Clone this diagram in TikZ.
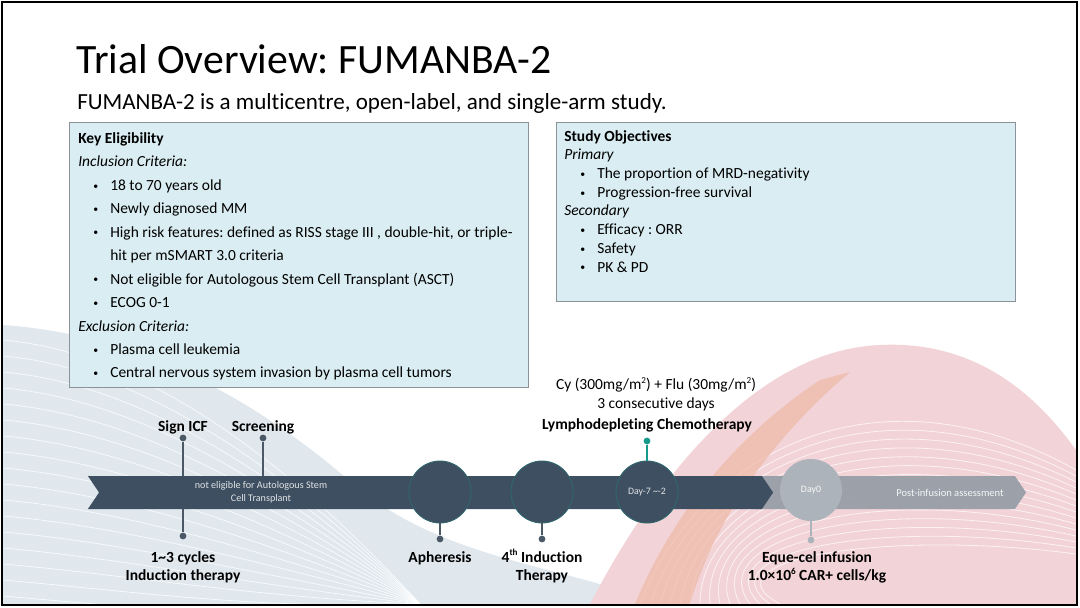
\documentclass[tikz,border=0pt]{standalone}
\usepackage{fontspec}
\setmainfont{Carlito}[Ligatures={NoCommon}]
\usetikzlibrary{shapes.symbols}
\frenchspacing

\definecolor{bandblue}{HTML}{3D4F60}
\definecolor{bandgrey}{HTML}{939BA5}
\definecolor{daygrey}{HTML}{ADB3BA}
\definecolor{boxfill}{HTML}{DAEDF2}
\definecolor{boxline}{HTML}{8C9398}
\definecolor{pingrey}{HTML}{4B5967}
\definecolor{pinteal}{HTML}{179A8C}
\definecolor{wavepink}{HTML}{F2D3D7}
\definecolor{waveblue}{HTML}{E0E8EE}
\definecolor{waveorange}{HTML}{EEB8A6}

\newcommand{\smallbullet}{\raisebox{0.15ex}{\fontsize{7}{7}\selectfont\textbullet}}
\newcommand{\eligitem}{\makebox[0.8cm][l]{\hspace{0.375cm}\smallbullet}}
\newcommand{\objitem}{\makebox[0.825cm][l]{\hspace{0.4cm}\smallbullet}}
\newcommand{\supr}[1]{\smash{\raisebox{0.85ex}{\fontsize{6.5}{6.5}\selectfont #1}}}

\tikzset{
  infobox/.style={draw=boxline, fill=boxfill, line width=0.7pt, inner sep=0pt, anchor=north west},
  stage/.style={circle, fill=bandblue, draw=pinteal!35!bandblue, line width=0.6pt, minimum size=1.55cm, inner sep=0pt, text=white!85!bandblue, font=\fontsize{7}{8}\selectfont},
  pindot/.style={circle, fill=pingrey, inner sep=0pt, minimum size=0.17cm},
  pinline/.style={draw=pingrey, line width=1.1pt},
  band/.style={signal, signal from=west, signal to=east, signal pointer angle=112, minimum height=0.825cm, inner sep=0pt},
  milestone/.style={font=\bfseries\fontsize{11}{13.3}\selectfont, align=center, inner sep=0pt},
}

\begin{document}
\begin{tikzpicture}[x=0.025cm, y=-0.025cm]
\useasboundingbox (0,0) rectangle (1080,607);
\fill[white] (0,0) rectangle (1080,607);

% background waves
\fill[waveblue] (3,325) .. controls (150,335) and (270,410) .. (360,490) .. controls (450,560) and (560,565) .. (660,604) -- (3,604) -- cycle;
\begin{scope}
  \clip (3,325) .. controls (150,335) and (270,410) .. (360,490) .. controls (450,560) and (560,565) .. (660,604) -- (3,604) -- cycle;
  \foreach \k in {0,...,16}
    \draw[white, line width=0.5pt, opacity=0.8] (3,340+\k*16) .. controls (120,350+\k*16) and (260,430+\k*12) .. (420,604);
\end{scope}
\fill[wavepink] (590,604) .. controls (660,470) and (760,350) .. (880,345) .. controls (980,340) and (1040,400) .. (1076,450) -- (1076,604) -- cycle;
\begin{scope}
  \clip (590,604) .. controls (660,470) and (760,350) .. (880,345) .. controls (980,340) and (1040,400) .. (1076,450) -- (1076,604) -- cycle;
  \foreach \k in {0,...,14}
    \draw[white, line width=0.6pt, opacity=0.7] (640+\k*10,604) .. controls (700,450+\k*8) and (880,360+\k*12) .. (1076,470+\k*6);
\end{scope}
\fill[waveorange, opacity=0.7] (635,604) .. controls (670,520) and (730,440) .. (820,380) -- (850,372) .. controls (770,440) and (715,520) .. (690,604) -- cycle;

% slide frame
\draw[black, line width=1.8pt] (2,2) rectangle (1077,605);

% title
\node[anchor=base west, inner sep=0pt, font=\fontsize{29.7}{34}\selectfont] (title) at (76,73) {Trial Overview: FUMANBA-2};
\node[anchor=base west, inner sep=0pt, font=\fontsize{16.4}{19}\selectfont] (subtitle) at (77,109) {FUMANBA-2 is a multicentre, open-label, and single-arm study.};

% eligibility box
\node[infobox, minimum width=11.475cm, minimum height=6.625cm] (eligbox) at (69,122) {};
\node[anchor=north west, inner sep=0pt, align=left, font=\fontsize{11}{16.7}\selectfont] (eligtext) at (78,132) {
\textbf{Key Eligibility}\\
\textit{Inclusion Criteria:}\\
\eligitem 18 to 70 years old\\
\eligitem Newly diagnosed MM\\
\eligitem High risk features: defined as RISS stage III , double-hit, or triple-\\
\hspace*{0.8cm}hit per mSMART 3.0 criteria\\
\eligitem Not eligible for Autologous Stem Cell Transplant (ASCT)\\
\eligitem ECOG 0-1\\
\textit{Exclusion Criteria:}\\
\eligitem Plasma cell leukemia\\
\eligitem Central nervous system invasion by plasma cell tumors};

% objectives box
\node[infobox, minimum width=11.475cm, minimum height=4.475cm] (objbox) at (556,122) {};
\node[anchor=north west, inner sep=0pt, align=left, font=\fontsize{11}{13.3}\selectfont] (objtext) at (564,130) {
\textbf{Study Objectives}\\
\textit{Primary}\\
\objitem The proportion of MRD-negativity\\
\objitem Progression-free survival\\
\textit{Secondary}\\
\objitem Efficacy : ORR\\
\objitem Safety\\
\objitem PK \& PD};

% pins crossing the band
\node[pindot] (icftop) at (183,438) {};
\node[pindot] (icfbot) at (183,536) {};
\node[pindot] (scrdot) at (263,438) {};
\coordinate (scrfoot) at (263,492);
\draw[pinline] (icftop) -- (icfbot);
\draw[pinline] (scrdot) -- (scrfoot);

% timeline bands
\node[band, fill=bandgrey, fill opacity=0.9, minimum width=6.775cm] (postband) at (890.5,492.5) {};
\node[band, fill=bandblue, minimum width=17.125cm] (mainband) at (430.5,492.5) {};
\node[align=center, inner sep=0pt, text=white!85!bandblue, font=\fontsize{7.2}{9.2}\selectfont] (bandtext) at (261,492.5) {not eligible for Autologous Stem\\Cell Transplant};
\node[inner sep=0pt, text=white!90!bandgrey, font=\fontsize{7.5}{9}\selectfont] (posttext) at (950,492.5) {Post-infusion assessment};

% stages
\node[stage] (apher) at (440,492) {};
\node[stage] (induct) at (542,492) {};
\node[stage] (lymph) at (647,492) {Day-7 \textasciitilde-2};
\node[stage, fill=daygrey, draw=none, text=white!92!daygrey] (day0) at (811,490) {Day0};

\node[pindot] (apherdot) at (440,539) {};
\node[pindot] (inductdot) at (542,539) {};
\node[pindot, fill=pinteal] (lymphdot) at (647,441) {};
\node[pindot, fill=daygrey] (day0dot) at (811,540) {};
\draw[pinline] (apher) -- (apherdot);
\draw[pinline] (induct) -- (inductdot);
\draw[pinline, draw=pinteal] (lymphdot) -- (lymph);
\draw[pinline, draw=daygrey] (day0) -- (day0dot);

% labels
\node[milestone, anchor=base] (icflbl) at (183,431) {Sign ICF};
\node[milestone, anchor=base] (scrlbl) at (263,431) {Screening};
\node[milestone, anchor=north] (cyclelbl) at (183,551) {1\textasciitilde3 cycles\\Induction therapy};
\node[milestone, anchor=base] (apherlbl) at (440,562) {Apheresis};
\node[milestone, anchor=north] (inductlbl) at (542,551) {4\supr{th} Induction\\Therapy};
\node[milestone, anchor=base] (lymphlbl) at (647,429) {Lymphodepleting Chemotherapy};
\node[anchor=north, align=center, inner sep=0pt, font=\fontsize{11}{13.5}\selectfont] (cylbl) at (656,378) {Cy (300mg/m\supr{2}) + Flu (30mg/m\supr{2})\\3 consecutive days};
\node[milestone, anchor=north] (day0lbl) at (817,551) {Eque-cel infusion\\1.0\texttimes10\supr{6} CAR+ cells/kg};
\end{tikzpicture}
\end{document}
